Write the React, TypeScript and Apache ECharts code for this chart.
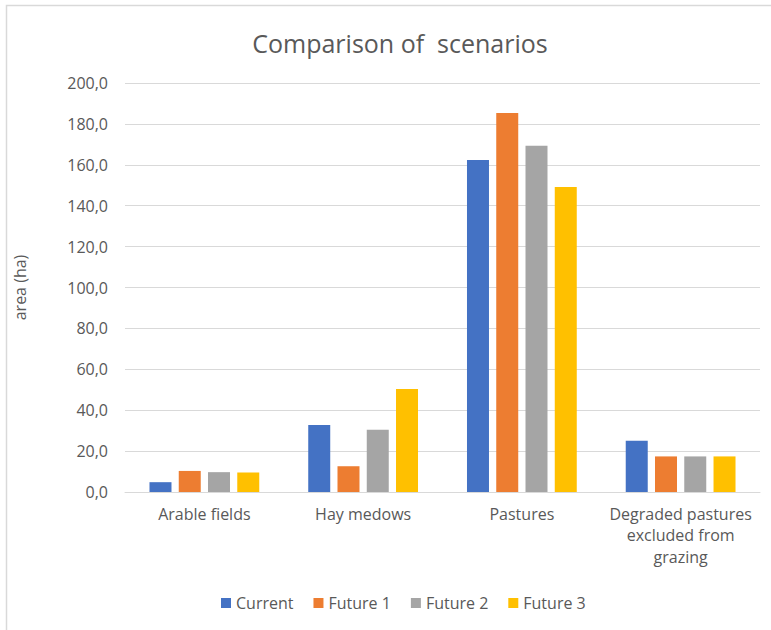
import React, { useEffect, useRef } from "react";
import * as echarts from "echarts";

const categories = [
  "Arable fields",
  "Hay medows",
  "Pastures",
  "Degraded pastures\nexcluded from\ngrazing",
];
const seriesNames = ["Current", "Future 1", "Future 2", "Future 3"];
const current = [4.8, 32.8, 162.3, 25.1];
const future1 = [10.3, 12.6, 185.3, 17.4];
const future2 = [9.7, 30.4, 169.3, 17.4];
const future3 = [9.5, 50.4, 149.1, 17.4];
const colors = ["#4472C4", "#ED7D31", "#A5A5A5", "#FFC000"];

const FONT = "'Open Sans', sans-serif";

export default function App() {
  const ref = useRef<HTMLDivElement>(null);
  useEffect(() => {
    if (!ref.current) return;
    const chart = echarts.init(ref.current, null, { renderer: "svg" });
    const values = [current, future1, future2, future3];
    chart.setOption({
      animation: false,
      backgroundColor: "#ffffff",
      title: {
        text: "Comparison of  scenarios",
        left: 395,
        top: 25,
        textAlign: "center",
        textStyle: {
          fontFamily: FONT,
          fontSize: 25,
          fontWeight: "normal",
          color: "#595959",
        },
      },
      graphic: [
        {
          type: "rect",
          shape: { x: 6.5, y: 5.5, width: 1000, height: 1000 },
          style: { fill: "none", stroke: "#d9d9d9", lineWidth: 1.5 },
          silent: true,
        },
      ],
      legend: {
        data: seriesNames,
        left: 216,
        top: 590,
        itemWidth: 10,
        itemHeight: 10,
        itemGap: 20,
        icon: "rect",
        textStyle: { fontFamily: FONT, fontSize: 16, color: "#595959" },
      },
      grid: { left: 125, right: 11, top: 83, bottom: 138 },
      xAxis: {
        type: "category",
        data: categories,
        axisLine: { lineStyle: { color: "#d9d9d9", width: 1 } },
        axisTick: { show: false },
        axisLabel: {
          fontFamily: FONT,
          fontSize: 16,
          color: "#595959",
          lineHeight: 21.5,
          margin: 11,
          interval: 0,
        },
      },
      yAxis: {
        type: "value",
        min: 0,
        max: 200,
        interval: 20,
        name: "area (ha)",
        nameLocation: "middle",
        nameGap: 97,
        nameTextStyle: { fontFamily: FONT, fontSize: 16, color: "#595959" },
        axisLine: { show: false },
        axisTick: { show: false },
        splitLine: { lineStyle: { color: "#d9d9d9", width: 1 } },
        axisLabel: {
          fontFamily: FONT,
          fontSize: 16,
          color: "#595959",
          margin: 17,
          formatter: (v: number) => v.toFixed(1).replace(".", ","),
        },
      },
      series: seriesNames.map((n, i) => ({
        name: n,
        type: "bar",
        data: values[i],
        barWidth: 22,
        barGap: "33%",
        itemStyle: { color: colors[i] },
      })),
    });
    return () => chart.dispose();
  }, []);
  return (
    <div
      ref={ref}
      style={{ position: "absolute", left: 0, top: 0, width: 771, height: 630 }}
    />
  );
}
